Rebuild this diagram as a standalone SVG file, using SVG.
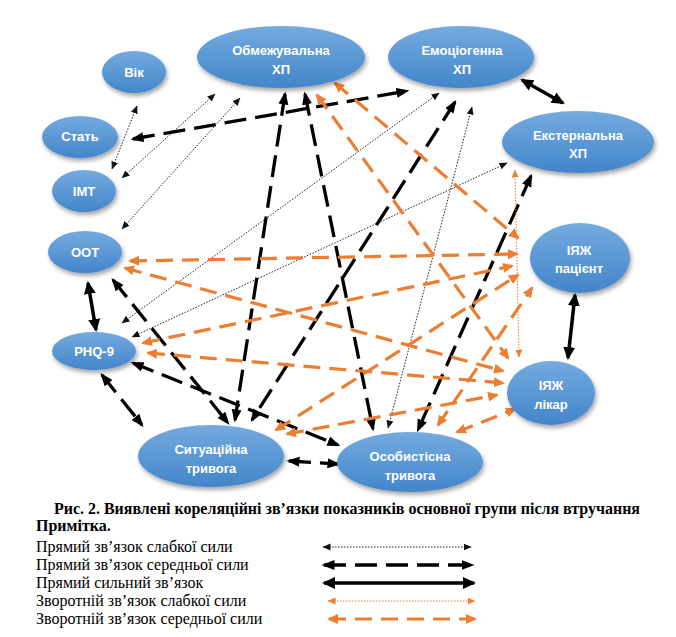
<svg xmlns="http://www.w3.org/2000/svg" width="676" height="637" viewBox="0 0 676 637">
<defs>
  <linearGradient id="gNode" x1="0" y1="0" x2="0" y2="1">
    <stop offset="0" stop-color="#74ABDF"/>
    <stop offset="1" stop-color="#4385CA"/>
  </linearGradient>
  <filter id="shadow" x="-20%" y="-20%" width="140%" height="150%">
    <feDropShadow dx="1.5" dy="3" stdDeviation="2" flood-color="#000" flood-opacity="0.35"/>
  </filter>
  <marker id="aW" markerUnits="userSpaceOnUse" markerWidth="9" markerHeight="8" refX="7.5" refY="3.5" orient="auto-start-reverse">
    <path d="M0,0 L8,3.5 L0,7 z" fill="#111"/>
  </marker>
  <marker id="aM" markerUnits="userSpaceOnUse" markerWidth="14" markerHeight="11" refX="10.5" refY="5" orient="auto-start-reverse">
    <path d="M0,0 L13,5 L0,10 z" fill="#000"/>
  </marker>
  <marker id="aS" markerUnits="userSpaceOnUse" markerWidth="14" markerHeight="13" refX="11" refY="6" orient="auto-start-reverse">
    <path d="M0,0 L13,6 L0,12 z" fill="#000"/>
  </marker>
  <marker id="aOW" markerUnits="userSpaceOnUse" markerWidth="9" markerHeight="8" refX="7.5" refY="3.5" orient="auto-start-reverse">
    <path d="M0,0 L8,3.5 L0,7 z" fill="#ED7D31"/>
  </marker>
  <marker id="aOM" markerUnits="userSpaceOnUse" markerWidth="12" markerHeight="11" refX="9" refY="5" orient="auto-start-reverse">
    <path d="M0,0 L11,5 L0,10 z" fill="#ED7D31"/>
  </marker>
</defs>
<style>
  .node { fill: url(#gNode); filter: url(#shadow); }
  .lbl { fill: #fff; font-family: "Liberation Sans", Arial, sans-serif; font-weight: bold; font-size: 13px; text-anchor: middle; }
  .w { stroke: #222; stroke-width: 1; stroke-dasharray: 1.5 1.5; fill: none; marker-start: url(#aW); marker-end: url(#aW); }
  .m { stroke: #000; stroke-width: 3.3; stroke-dasharray: 22 9; fill: none; marker-start: url(#aM); marker-end: url(#aM); }
  .s { stroke: #000; stroke-width: 3.5; fill: none; marker-start: url(#aS); marker-end: url(#aS); }
  .ow { stroke: #ED7D31; stroke-width: 1; stroke-dasharray: 1.5 1.5; fill: none; marker-start: url(#aOW); marker-end: url(#aOW); }
  .om { stroke: #ED7D31; stroke-width: 3.2; stroke-dasharray: 17 9; fill: none; marker-start: url(#aOM); marker-end: url(#aOM); }
  .cap { font-family: "Liberation Serif", "Times New Roman", serif; font-size: 16px; fill: #000; }
  .b { font-weight: bold; }
</style>
<rect width="676" height="637" fill="#fff"/>

<g id="connectors">
  <line class="w" x1="137" y1="106" x2="112" y2="169"/>
  <line class="w" x1="215" y1="94" x2="122" y2="178"/>
  <line class="w" x1="240" y1="98" x2="122" y2="229"/>
  <line class="w" x1="439" y1="93" x2="122" y2="323"/>
  <line class="w" x1="507" y1="163" x2="132" y2="337"/>
  <line class="w" x1="472" y1="107" x2="388" y2="428"/>

  <line class="m" x1="133" y1="139" x2="407" y2="91"/>
  <line class="m" x1="285" y1="94" x2="235" y2="420"/>
  <line class="m" x1="305" y1="94" x2="373" y2="429"/>
  <line class="m" x1="455" y1="102" x2="252" y2="420"/>
  <line class="m" x1="531" y1="176" x2="418" y2="430"/>
  <line class="m" x1="113" y1="280" x2="228" y2="423"/>
  <line class="m" x1="133" y1="363" x2="338" y2="445"/>
  <line class="m" x1="102" y1="375" x2="142" y2="425"/>
  <line class="m" x1="289" y1="461" x2="338" y2="464"/>

  <line class="s" x1="88" y1="283" x2="96" y2="330"/>
  <line class="s" x1="522" y1="80" x2="563" y2="103"/>
  <line class="s" x1="575" y1="295" x2="568" y2="358"/>

  <line class="ow" x1="515" y1="170" x2="519" y2="357"/>

  <line class="om" x1="335" y1="83" x2="518" y2="238"/>
  <line class="om" x1="317" y1="95" x2="508" y2="358"/>
  <line class="om" x1="130" y1="261" x2="517" y2="254"/>
  <line class="om" x1="125" y1="268" x2="503" y2="371"/>
  <line class="om" x1="143" y1="343" x2="512" y2="266"/>
  <line class="om" x1="148" y1="353" x2="503" y2="383"/>
  <line class="om" x1="276" y1="430" x2="518" y2="275"/>
  <line class="om" x1="287" y1="434" x2="497" y2="395"/>
  <line class="om" x1="438" y1="425" x2="532" y2="288"/>
  <line class="om" x1="457" y1="432" x2="515" y2="409"/>
</g>

<g id="n-vik"><ellipse class="node" cx="134" cy="72" rx="32" ry="21"/><text class="lbl" x="134" y="77">Вік</text></g>
<g id="n-stat"><ellipse class="node" cx="80" cy="137" rx="38" ry="21"/><text class="lbl" x="80" y="141">Стать</text></g>
<g id="n-imt"><ellipse class="node" cx="84" cy="191" rx="32" ry="21"/><text class="lbl" x="84" y="196">ІМТ</text></g>
<g id="n-oot"><ellipse class="node" cx="85" cy="252" rx="37" ry="21"/><text class="lbl" x="85" y="257">ООТ</text></g>
<g id="n-phq"><ellipse class="node" cx="94" cy="351" rx="42" ry="19"/><text class="lbl" x="94" y="356">PHQ-9</text></g>
<g id="n-obm"><ellipse class="node" cx="281" cy="57" rx="84" ry="31"/><text class="lbl" x="281" y="55">Обмежувальна</text><text class="lbl" x="281" y="74">ХП</text></g>
<g id="n-emo"><ellipse class="node" cx="461" cy="57" rx="73" ry="31"/><text class="lbl" x="462" y="55">Емоціогенна</text><text class="lbl" x="462" y="74">ХП</text></g>
<g id="n-ext"><ellipse class="node" cx="578" cy="142" rx="76" ry="31"/><text class="lbl" x="578" y="140">Екстернальна</text><text class="lbl" x="578" y="158">ХП</text></g>
<g id="n-iyazh-p"><ellipse class="node" cx="580" cy="258" rx="50" ry="35"/><text class="lbl" x="579" y="255">ІЯЖ</text><text class="lbl" x="579" y="273">пацієнт</text></g>
<g id="n-iyazh-l"><ellipse class="node" cx="551" cy="393" rx="44" ry="32"/><text class="lbl" x="551" y="390">ІЯЖ</text><text class="lbl" x="551" y="409">лікар</text></g>
<g id="n-sit"><ellipse class="node" cx="211" cy="456" rx="73" ry="31"/><text class="lbl" x="211" y="454">Ситуаційна</text><text class="lbl" x="211" y="473">тривога</text></g>
<g id="n-osob"><ellipse class="node" cx="410" cy="462" rx="73" ry="30"/><text class="lbl" x="410" y="461">Особистісна</text><text class="lbl" x="410" y="480">тривога</text></g>

<g id="caption">
  <text class="cap b" x="54" y="514" textLength="586" lengthAdjust="spacingAndGlyphs">Рис. 2. Виявлені кореляційні зв’язки показників основної групи після втручання</text>
  <text class="cap b" x="36" y="531">Примітка.</text>
  <text class="cap" x="36" y="552">Прямий зв’язок слабкої сили</text>
  <text class="cap" x="36" y="570">Прямий зв’язок середньої сили</text>
  <text class="cap" x="36" y="588">Прямий сильний зв’язок</text>
  <text class="cap" x="36" y="606">Зворотній зв’язок слабкої сили</text>
  <text class="cap" x="36" y="624">Зворотній зв’язок середньої сили</text>
</g>
<g id="legend">
  <line class="w" x1="323" y1="547" x2="471" y2="547"/>
  <line class="m" x1="324" y1="565" x2="472" y2="565" stroke-dasharray="24 13"/>
  <line class="s" x1="324" y1="583" x2="474" y2="583"/>
  <line class="ow" x1="328" y1="601" x2="475" y2="601"/>
  <line class="om" x1="329" y1="619" x2="475" y2="619" stroke-dasharray="18 11"/>
</g>
</svg>
